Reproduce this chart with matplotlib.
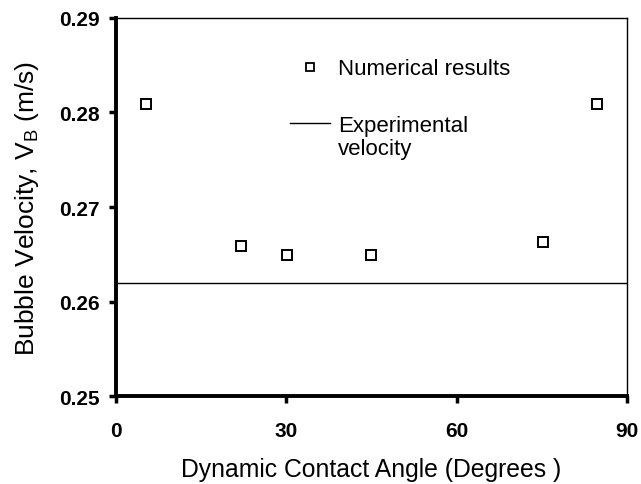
import matplotlib
matplotlib.use("Agg")
import matplotlib.pyplot as plt
from matplotlib.lines import Line2D

plt.rcParams['font.family'] = ['Liberation Sans', 'DejaVu Sans']

angles = [5.3, 22.0, 30.2, 45.0, 75.2, 84.7]
velocity = [0.2809, 0.2659, 0.2649, 0.2649, 0.2663, 0.2809]
exp_velocity = 0.262
xticks = [0, 30, 60, 90]
yticks = [0.25, 0.26, 0.27, 0.28, 0.29]

fig = plt.figure(figsize=(6.41, 4.85), dpi=100)
ax = fig.add_axes([0.181, 0.181, 0.797, 0.780])

ax.plot(angles, velocity, linestyle='none', marker='s', markersize=7,
        markerfacecolor='white', markeredgecolor='black', markeredgewidth=1.4,
        clip_on=False, zorder=3)
ax.axhline(exp_velocity, color='black', linewidth=1.0)

ax.set_xlim(0, 90)
ax.set_ylim(0.25, 0.29)
ax.set_xticks(xticks)
ax.set_yticks(yticks)
ax.set_xticklabels([str(t) for t in xticks], fontweight='bold', fontsize=15)
ax.set_yticklabels([f"{t:.2f}" for t in yticks], fontweight='bold', fontsize=15)
ax.tick_params(axis='both', direction='out', length=5, width=2.5)
ax.tick_params(axis='y', pad=7)
ax.tick_params(axis='x', pad=13)

for s in ['left', 'bottom']:
    ax.spines[s].set_linewidth(2.8)
for s in ['top', 'right']:
    ax.spines[s].set_linewidth(1.0)

ax.set_xlabel('Dynamic Contact Angle (Degrees )', fontsize=17.8, labelpad=12)
ax.set_ylabel('Bubble Velocity, V$_{\\mathregular{B}}$ (m/s)', fontsize=19, labelpad=13)

h_marker = Line2D([], [], linestyle='none', marker='s', markersize=6,
                  markerfacecolor='white', markeredgecolor='black', markeredgewidth=1.3)
h_line = Line2D([], [], color='black', linewidth=1.0)
h_none = Line2D([], [], linestyle='none')

leg1 = ax.legend([h_marker], ['Numerical results'],
                 loc='center left', bbox_to_anchor=(0.3405, 0.865), frameon=False,
                 fontsize=16, handlelength=1.8, handletextpad=0.36,
                 borderpad=0, borderaxespad=0)
ax.add_artist(leg1)
leg2 = ax.legend([h_line, h_none], ['Experimental', 'velocity'],
                 loc='upper left', bbox_to_anchor=(0.3405, 0.744), frameon=False,
                 fontsize=16, handlelength=1.8, handletextpad=0.36,
                 borderpad=0, borderaxespad=0, labelspacing=0.1)

fig.savefig('out.png', dpi=100)
